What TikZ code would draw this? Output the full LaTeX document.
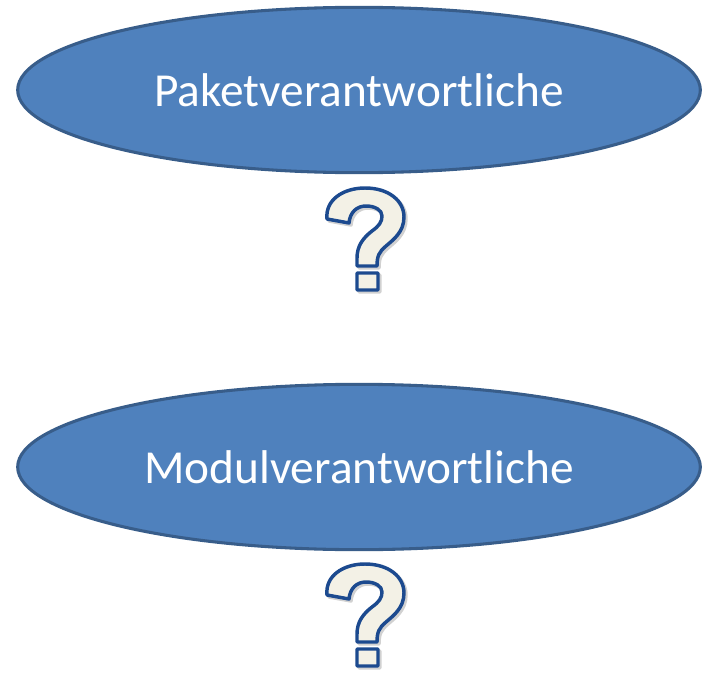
\documentclass[tikz,border=0pt]{standalone}
\usepackage{fontspec}
\setmainfont{Carlito}
\definecolor{roleFill}{HTML}{4F81BD}
\definecolor{roleLine}{HTML}{385D8A}
\definecolor{qFill}{HTML}{F3F1E6}
\definecolor{qLine}{HTML}{1C4A8F}
\tikzset{
  role/.style={ellipse, draw=roleLine, line width=2.3pt, fill=roleFill,
    minimum width=512pt, minimum height=124pt, inner sep=0pt,
    text=white, font=\fontsize{35.5}{40}\selectfont},
  qmark/.style={fill=qFill, draw=qLine, line width=2.6pt, line join=round},
  qshade/.style={fill=black!18, draw=black!18, line width=2.6pt, line join=round},
}
\usetikzlibrary{shapes.geometric}
\newcommand{\qpath}{%
  (327,219) .. controls (325,200) and (343,188) .. (365,188)
  .. controls (389,188) and (404,201) .. (404,217)
  .. controls (404,232) and (393,240) .. (386,246)
  .. controls (379,252) and (377,256) .. (377,266)
  -- (357,266) -- (357,258)
  .. controls (357,246) and (363,238) .. (372,231)
  .. controls (379,226) and (382,222) .. (382,216)
  .. controls (382,210) and (375,206) .. (366,206)
  .. controls (357,206) and (350,212) .. (349,223)
  -- cycle
  (357,273) rectangle (378,290)}
\begin{document}
\begin{tikzpicture}[x=0.75pt,y=-0.75pt]
  \useasboundingbox (0,0) rectangle (703,674);
  % role ellipses
  \node[role] (pkg) at (359,90) {Paketverantwortliche};
  \node[role] (mod) at (359,467) {Modulverantwortliche};
  % question marks under each role
  \foreach \dy in {0,376} {
    \begin{scope}[yshift=-\dy*0.75pt]
      \begin{scope}[xshift=1.5pt,yshift=-1.5pt]
        \path[qshade] \qpath;
      \end{scope}
      \path[qmark] \qpath;
    \end{scope}
  }
\end{tikzpicture}
\end{document}
